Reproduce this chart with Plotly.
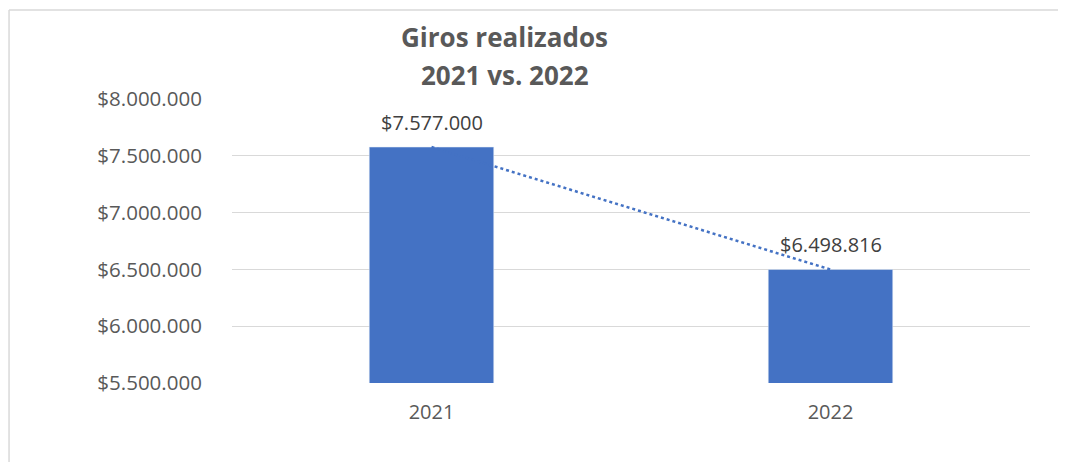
import plotly.graph_objects as go

years = ["2021", "2022"]
values = [7577000, 6498816]
value_labels = ["$7.577.000", "$6.498.816"]
tick_vals = [5500000, 6000000, 6500000, 7000000, 7500000, 8000000]
tick_text = ["$5.500.000", "$6.000.000", "$6.500.000", "$7.000.000", "$7.500.000", "$8.000.000"]
title_lines = ["Giros realizados", "2021 vs. 2022"]

BLUE = "#4472C4"
GRAY = "#595959"
FONT = "Open Sans"

fig = go.Figure()
fig.add_trace(go.Bar(x=years, y=values, marker_color=BLUE, width=0.312,
                     hoverinfo="skip", showlegend=False))
fig.add_trace(go.Scatter(x=years, y=values, mode="lines",
                         line=dict(color=BLUE, width=2.5, dash="dot"),
                         hoverinfo="skip", showlegend=False))

for i, (v, t) in enumerate(zip(values, value_labels)):
    fig.add_annotation(x=i, xref="x", y=v, yref="y", text=t, showarrow=False,
                       yanchor="middle", yshift=25,
                       font=dict(family=FONT, size=20, color="#404040"))

for ty, line in zip([1.218, 1.0845], title_lines):
    fig.add_annotation(x=0.342, xref="paper", y=ty, yref="paper", text=f"<b>{line}</b>",
                       showarrow=False, xanchor="center", yanchor="middle",
                       font=dict(family=FONT, size=26, color=GRAY))

# chart border (left and top visible)
fig.add_shape(type="line", xref="paper", yref="paper", x0=-0.2794, x1=1.1,
              y0=1.3134, y1=1.3134, line=dict(color="#d9d9d9", width=1.5))
fig.add_shape(type="line", xref="paper", yref="paper", x0=-0.2794, x1=-0.2794,
              y0=1.3134, y1=-0.4, line=dict(color="#d9d9d9", width=1.5))

fig.update_layout(
    width=1058, height=454,
    margin=dict(l=224, r=36, t=91, b=79),
    paper_bgcolor="white", plot_bgcolor="white",
    font=dict(family=FONT, size=20, color=GRAY),
    xaxis=dict(type="category", range=[-0.5, 1.5], showgrid=False, showline=False,
               ticks="outside", ticklen=11, tickcolor="rgba(0,0,0,0)",
               tickfont=dict(size=20, color=GRAY)),
    yaxis=dict(range=[5500000, 8000000], tickvals=tick_vals, ticktext=tick_text,
               showgrid=True, gridcolor="#d9d9d9", gridwidth=1, zeroline=False,
               showline=False, ticks="outside", ticklen=25, tickcolor="rgba(0,0,0,0)",
               tickfont=dict(size=20.5, color=GRAY)),
)

fig.write_html("out.html")
